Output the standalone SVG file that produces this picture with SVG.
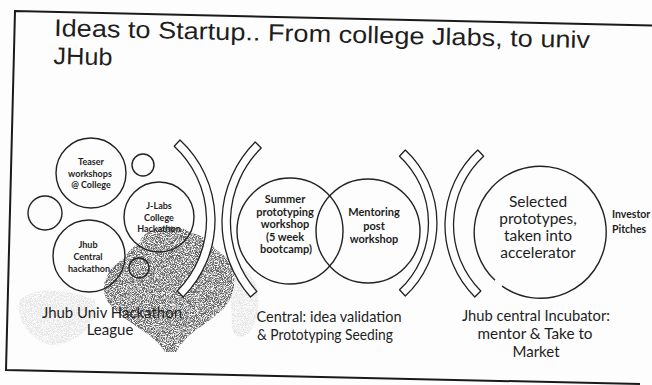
<svg xmlns="http://www.w3.org/2000/svg" width="652" height="385" viewBox="0 0 652 385">
<style>
.t{font-family:"Liberation Sans",Arial,sans-serif;fill:#1e1e1e;font-size:24px}
.c{font-family:Lato,"Open Sans",sans-serif;fill:#1e1e1e;text-anchor:middle}
.s{font-size:9px;font-weight:bold}
.m{font-size:11px;font-weight:bold}
.l{font-size:15.5px}
.lab{font-size:15px}
.ring{fill:none;stroke:#222;stroke-width:1.4}
.band{fill:#fff;stroke:#222;stroke-width:1.3;stroke-linejoin:round}
</style>
<defs>
<filter id="spk" x="-10%" y="-10%" width="120%" height="120%" color-interpolation-filters="sRGB">
<feTurbulence type="fractalNoise" baseFrequency="1.1" numOctaves="2" seed="7" result="n"/>
<feColorMatrix in="n" type="matrix" values="0 0 0 0 0.38  0 0 0 0 0.38  0 0 0 0 0.38  4 0 0 0 -1.45" result="d"/>
<feComposite in="d" in2="SourceGraphic" operator="in"/>
</filter>
</defs>
<rect width="652" height="385" fill="#fdfdfd"/>
<g id="frame">
<polyline points="652,25.4 15,11 6,370 640,384" fill="none" stroke="#1a1a1a" stroke-width="2"/>
</g>
<g id="texture" filter="url(#spk)">
<path d="M165,352 C155,333 122,322 108,302 C98,286 108,266 124,259 C130,245 150,234 170,238 C186,227 206,234 216,250 C233,258 240,281 229,301 C220,319 190,327 176,352 Z" fill="#444"/>
<path d="M140,240 C150,225 175,222 190,232 C195,245 170,252 150,250 Z" fill="#555"/>
<path d="M20,300 C35,285 70,290 95,300 C100,320 80,345 50,345 C30,340 15,320 20,300 Z" fill="#bbb" opacity="0.15"/>
<path d="M230,270 C245,262 262,280 258,310 C254,335 240,345 232,330 Z" fill="#bbb" opacity="0.15"/>
</g>
<g id="title" transform="rotate(1.3 54 36)">
<text class="t" x="54" y="36" textLength="536" lengthAdjust="spacingAndGlyphs">Ideas to Startup.. From college Jlabs, to univ</text>
<text class="t" x="54" y="64" textLength="59" lengthAdjust="spacingAndGlyphs">JHub</text>
</g>
<g id="brackets">
<path class="band" d="M180,140 A109,109 0 0 1 183.2,297 L177.2,291 A100.5,100.5 0 0 0 174.2,146.2 Z"/>
<path class="band" d="M255.2,142 A113,113 0 0 0 250.5,297 L256.8,291.4 A104.5,104.5 0 0 1 261.2,148 Z"/>
<path class="band" d="M405.3,150 A100,100 0 0 1 405.3,296 L399.5,289.8 A91.5,91.5 0 0 0 399.5,156.2 Z"/>
<path class="band" d="M477.8,150 A102,102 0 0 0 474.8,297 L480.8,291 A93.5,93.5 0 0 1 483.6,156.3 Z"/>
</g>
<g id="node-teaser">
<circle class="ring" cx="91" cy="173" r="35"/>
<text class="c s" x="91" y="165">Teaser</text>
<text class="c s" x="90" y="177">workshops</text>
<text class="c s" x="91" y="188">@ College</text>
</g>
<g id="node-small-top"><circle class="ring" cx="143" cy="165" r="11"/></g>
<g id="node-small-left"><circle class="ring" cx="45" cy="213" r="17"/></g>
<g id="node-jlabs">
<circle class="ring" cx="159" cy="217" r="35"/>
<text class="c s" x="159" y="209">J-Labs</text>
<text class="c s" x="159" y="221">College</text>
<text class="c s" x="159" y="232">Hackathon</text>
</g>
<g id="node-jhub">
<circle class="ring" cx="89" cy="256" r="36"/>
<text class="c s" x="88" y="248">Jhub</text>
<text class="c s" x="88" y="260">Central</text>
<text class="c s" x="89" y="272">hackathon</text>
</g>
<g id="node-small-bottom"><circle class="ring" cx="139" cy="268" r="10"/></g>
<g id="label-league">
<text class="c lab" x="112" y="318" textLength="140" lengthAdjust="spacingAndGlyphs">Jhub Univ Hackathon</text>
<text class="c lab" x="110" y="335">League</text>
</g>
<g id="node-summer">
<circle class="ring" cx="290" cy="231" r="53"/>
<text class="c m" x="285" y="203">Summer</text>
<text class="c m" x="285" y="215.5">prototyping</text>
<text class="c m" x="285" y="228">workshop</text>
<text class="c m" x="285" y="240.5">(5 week</text>
<text class="c m" x="286" y="253">bootcamp)</text>
</g>
<g id="node-mentoring">
<circle class="ring" cx="368" cy="231" r="52"/>
<text class="c m" x="374" y="216">Mentoring</text>
<text class="c m" x="374" y="230">post</text>
<text class="c m" x="374" y="243">workshop</text>
</g>
<g id="label-central">
<text class="c lab" x="329" y="322" textLength="145" lengthAdjust="spacingAndGlyphs">Central: idea validation</text>
<text class="c lab" x="325" y="340" textLength="136" lengthAdjust="spacingAndGlyphs">&amp; Prototyping Seeding</text>
</g>
<g id="node-selected">
<path class="ring" d="M495,280.3 A66,66 0 1 1 502.1,286.1"/>
<text class="c l" x="538" y="207">Selected</text>
<text class="c l" x="538" y="224">prototypes,</text>
<text class="c l" x="538" y="241">taken into</text>
<text class="c l" x="538" y="258">accelerator</text>
</g>
<g id="node-investor">
<text class="c" x="612" y="218" style="text-anchor:start;font-size:10.5px;font-weight:bold">Investor</text>
<text class="c" x="612" y="233" style="text-anchor:start;font-size:10.5px;font-weight:bold">Pitches</text>
</g>
<g id="label-incubator">
<text class="c lab" x="536" y="321" textLength="148" lengthAdjust="spacingAndGlyphs">Jhub central Incubator:</text>
<text class="c lab" x="535" y="339" textLength="115" lengthAdjust="spacingAndGlyphs">mentor &amp; Take to</text>
<text class="c lab" x="536" y="357">Market</text>
</g>
</svg>
